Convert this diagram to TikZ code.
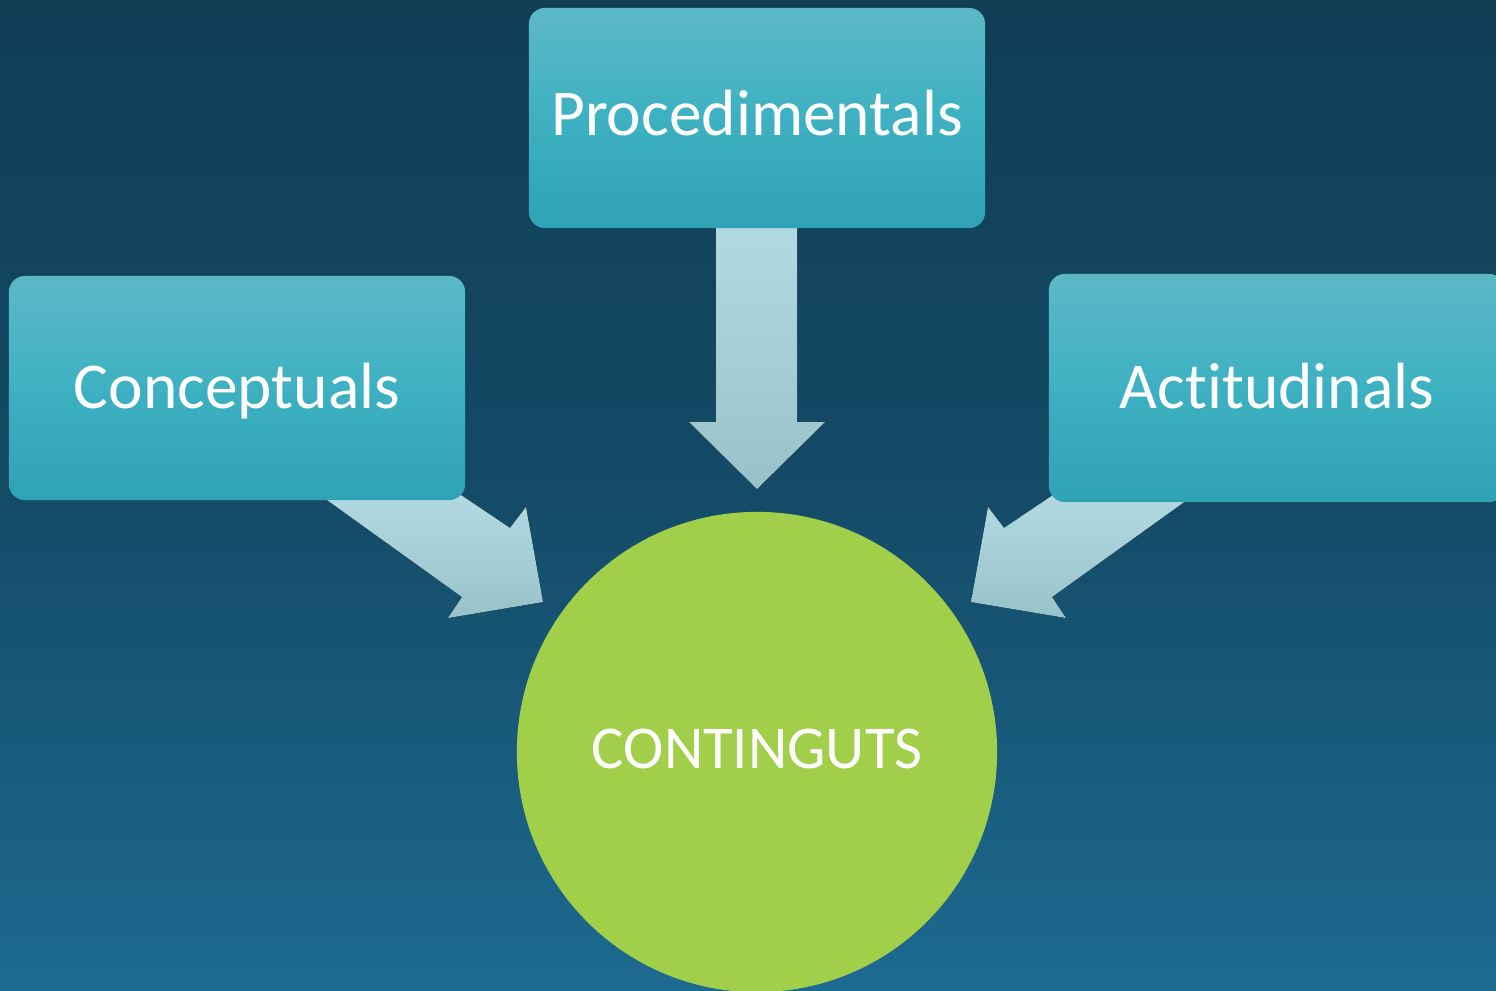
\documentclass[tikz,border=0pt]{standalone}
\usepackage{fontspec}
\setmainfont[Ligatures=NoCommon,RawFeature=-liga]{Carlito}
\usetikzlibrary{shapes.geometric}
\definecolor{bgtop}{HTML}{113D55}
\definecolor{bgmid}{HTML}{144B67}
\definecolor{bgbot}{HTML}{1D6A90}
\definecolor{boxtop}{HTML}{5DB8C6}
\definecolor{boxmid}{HTML}{3DB1C2}
\definecolor{boxbot}{HTML}{2EA3B4}
\definecolor{arrtop}{HTML}{B3DAE2}
\definecolor{arrbot}{HTML}{98C2CA}
\definecolor{circfill}{HTML}{A2CF4A}
\tikzset{
  box/.style={rectangle, rounded corners=0.16cm, top color=boxtop, bottom color=boxbot, middle color=boxmid, draw=none,
    minimum width=4.56cm, text=white, font=\fontsize{18.6pt}{22pt}\selectfont, text depth=0pt, inner sep=0pt},
  blockarrow/.style={top color=arrtop, bottom color=arrbot, draw=none},
  hub/.style={circle, fill=circfill, minimum size=4.8cm, inner sep=0pt, text=white,
    font=\fontsize{17.3pt}{20pt}\selectfont, text depth=0pt, text height=0.32cm}
}
\begin{document}
\begin{tikzpicture}[x=0.01cm,y=-0.01cm]
\useasboundingbox (0,0) rectangle (1496,990);
\clip (0,0) rectangle (1496,990);
% background
\shade[top color=bgtop, bottom color=bgbot, middle color=bgmid] (0,0) rectangle (1496,990);
% block arrows (behind boxes)
\coordinate (la1) at (327,500);
\coordinate (ra1) at (1187,500);
\fill[blockarrow] (la1) -- (458,493) -- (510,528) -- (526,507) -- (543,602) -- (448,618) -- (462,597) -- cycle;
\fill[blockarrow] (ra1) -- (1056,493) -- (1004,528) -- (988,507) -- (971,602) -- (1066,618) -- (1052,597) -- cycle;
\fill[blockarrow] (716,220) -- (797,220) -- (797,422) -- (825,422) -- (757,489) -- (689,422) -- (716,422) -- cycle;
% boxes
\node[box, minimum height=2.2cm, text height=0.34cm] (proc) at (757,118) {Procedimentals};
\node[box, minimum height=2.24cm, text height=0.40cm] (conc) at (237,388) {Conceptuals};
\node[box, minimum height=2.28cm, text height=0.40cm] (acti) at (1277,388) {Actitudinals};
% hub
\node[hub] (cont) at (757,752) {CONTINGUTS};
\end{tikzpicture}
\end{document}
